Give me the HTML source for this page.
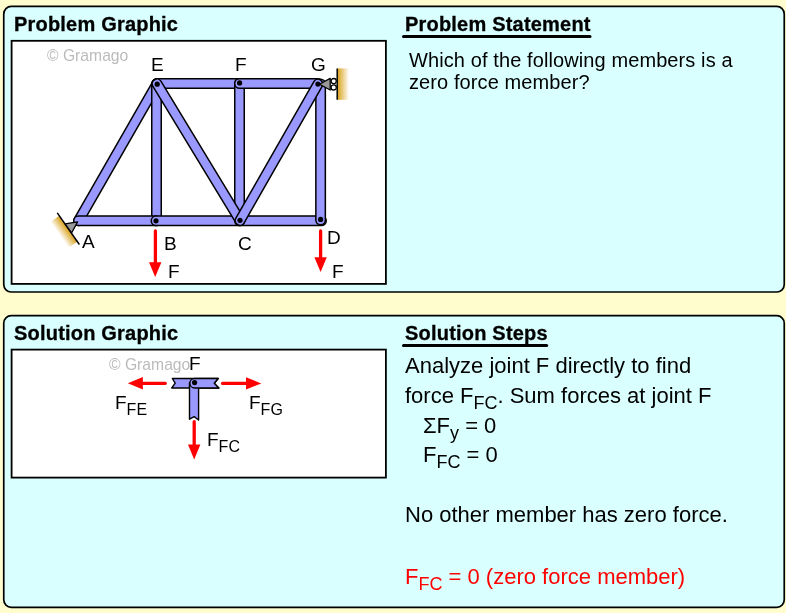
<!DOCTYPE html>
<html><head><meta charset="utf-8">
<style>
html,body{margin:0;padding:0;}
body{width:786px;height:613px;background:#FFFCCD;position:relative;overflow:hidden;font-family:"Liberation Sans",sans-serif;}
svg{position:absolute;left:0;top:0;}
.t,.st,.lab,.cp{will-change:transform;}
.t{position:absolute;white-space:nowrap;line-height:20px;font-size:20px;color:#000;}
.b{font-weight:bold;letter-spacing:0.2px;-webkit-text-stroke:0.3px #000;}
.lab{position:absolute;white-space:nowrap;line-height:19px;font-size:19px;color:#000;}
.cp{position:absolute;white-space:nowrap;line-height:16px;font-size:15.7px;color:#BBBBBB;}
sub{font-size:18px;vertical-align:-6px;line-height:0;}
.st{position:absolute;white-space:nowrap;line-height:22px;font-size:22px;color:#000;}
.s15{font-size:16px;vertical-align:-6px;line-height:0;}
</style></head><body>
<svg width="786" height="613" viewBox="0 0 786 613">
<defs>
<linearGradient id="gw" x1="0" y1="0" x2="1" y2="0">
<stop offset="0" stop-color="#D9A21C"/><stop offset="1" stop-color="#D9A21C" stop-opacity="0"/>
</linearGradient>
</defs>
<!-- panels -->
<rect x="3.75" y="6.4" width="780.5" height="285.6" rx="7.5" ry="7.5" fill="#D9FFFF" stroke="#000" stroke-width="1.7"/>
<rect x="3.75" y="315.7" width="780.5" height="291.65" rx="7.5" ry="7.5" fill="#D9FFFF" stroke="#000" stroke-width="1.7"/>
<!-- inner boxes -->
<rect x="11.6" y="40.8" width="374.3" height="243.1" fill="#FFFFFF" stroke="#000" stroke-width="1.8"/>
<rect x="11.6" y="349.6" width="374.3" height="128" fill="#FFFFFF" stroke="#000" stroke-width="1.8"/>
<!-- underlines -->
<line x1="403.5" y1="36.5" x2="590" y2="36.5" stroke="#000" stroke-width="3" stroke-linecap="round"/>
<line x1="403.5" y1="345.5" x2="546.7" y2="345.5" stroke="#000" stroke-width="3" stroke-linecap="round"/>

<!-- truss members -->
<g stroke-linecap="round" fill="none">
<g id="m">
<!-- AE -->
<line x1="78.5" y1="220.8" x2="157" y2="83.8" stroke="#000" stroke-width="11"/>
<line x1="78.5" y1="220.8" x2="157" y2="83.8" stroke="#9999FF" stroke-width="8"/>
<!-- EB -->
<line x1="156.5" y1="83.8" x2="156.5" y2="220.8" stroke="#000" stroke-width="11"/>
<line x1="156.5" y1="83.8" x2="156.5" y2="220.8" stroke="#9999FF" stroke-width="8"/>
<!-- AB -->
<line x1="78.5" y1="220.8" x2="156" y2="220.8" stroke="#000" stroke-width="11"/>
<line x1="78.5" y1="220.8" x2="156" y2="220.8" stroke="#9999FF" stroke-width="8"/>
<!-- BC -->
<line x1="156" y1="220.8" x2="240" y2="220.8" stroke="#000" stroke-width="11"/>
<line x1="156" y1="220.8" x2="240" y2="220.8" stroke="#9999FF" stroke-width="8"/>
<!-- CD -->
<line x1="240" y1="220.8" x2="321.5" y2="220.8" stroke="#000" stroke-width="11"/>
<line x1="240" y1="220.8" x2="321.5" y2="220.8" stroke="#9999FF" stroke-width="8"/>
<!-- EF -->
<line x1="157" y1="83.5" x2="239.5" y2="83.5" stroke="#000" stroke-width="11"/>
<line x1="157" y1="83.5" x2="239.5" y2="83.5" stroke="#9999FF" stroke-width="8"/>
<!-- FC -->
<line x1="239.5" y1="83.5" x2="239.5" y2="220.8" stroke="#000" stroke-width="11"/>
<line x1="239.5" y1="83.5" x2="239.5" y2="220.8" stroke="#9999FF" stroke-width="8"/>
<!-- FG -->
<line x1="239.5" y1="83.5" x2="318" y2="83.5" stroke="#000" stroke-width="11"/>
<line x1="239.5" y1="83.5" x2="318" y2="83.5" stroke="#9999FF" stroke-width="8"/>
<!-- EC -->
<line x1="157" y1="83.8" x2="240" y2="220.5" stroke="#000" stroke-width="11"/>
<line x1="157" y1="83.8" x2="240" y2="220.5" stroke="#9999FF" stroke-width="8"/>
<!-- GD -->
<line x1="320.6" y1="84" x2="320.6" y2="220" stroke="#000" stroke-width="11"/>
<line x1="320.6" y1="84" x2="320.6" y2="220" stroke="#9999FF" stroke-width="8"/>
<!-- CG -->
<line x1="240" y1="220.5" x2="318" y2="84" stroke="#000" stroke-width="11"/>
<line x1="240" y1="220.5" x2="318" y2="84" stroke="#9999FF" stroke-width="8"/>
</g>
</g>
<!-- pins -->
<g fill="#000">
<circle cx="156" cy="220.8" r="2.6"/>
<circle cx="240" cy="220.3" r="2.6"/>
<circle cx="320.6" cy="219.4" r="2.6"/>
<circle cx="157.2" cy="84.2" r="2.6"/>
<circle cx="239.6" cy="82.9" r="2.6"/>
<circle cx="317.9" cy="84.1" r="2.6"/>
</g>
<!-- support G (roller) -->
<g transform="translate(318,84.2)">
<rect x="19.6" y="-15.8" width="11.4" height="31.4" fill="url(#gw)"/>
<line x1="19.2" y1="-15.8" x2="19.2" y2="15.6" stroke="#000" stroke-width="1.5"/>
<circle cx="15.7" cy="-3.1" r="2.6" fill="#fff" stroke="#000" stroke-width="1.3"/>
<circle cx="15.7" cy="3.2" r="2.6" fill="#fff" stroke="#000" stroke-width="1.3"/>
<polygon points="1.5,0 12.2,-5.8 12.2,5.8" fill="#999" stroke="#000" stroke-width="1.3" stroke-linejoin="round"/>
</g>
<!-- support A (pin) -->
<g transform="translate(78,221.6) rotate(145)">
<rect x="12.4" y="-16" width="10.5" height="31.5" fill="url(#gw)"/>
<line x1="12" y1="-19.5" x2="12" y2="19" stroke="#000" stroke-width="1.5"/>
<polygon points="0.5,0 11.8,-5.6 11.8,5.6" fill="#999" stroke="#000" stroke-width="1.3" stroke-linejoin="round"/>
</g>
<!-- load arrows -->
<g fill="#FF0000">
<line x1="155.4" y1="231" x2="155.4" y2="263" stroke="#FF0000" stroke-width="3.3" stroke-linecap="round"/>
<polygon points="149,262.2 161.4,262.2 155.2,276.9"/>
<line x1="320.6" y1="231" x2="320.6" y2="258" stroke="#FF0000" stroke-width="3.3" stroke-linecap="round"/>
<polygon points="314.4,257.3 326.8,257.3 320.6,272"/>
</g>

<!-- solution graphic: joint F FBD -->
<path d="M172.3,378.5 L218.2,378.5 L214.2,383.2 L218.8,388 L171.7,388 L175.2,383.2 Z" fill="#9999FF" stroke="#000" stroke-width="1.4" stroke-linejoin="round"/>
<path d="M189.5,383 L189.5,419.2 L194.2,416.6 L198.6,420 L198.6,383 Z" fill="#9999FF" stroke="#000" stroke-width="1.4" stroke-linejoin="round"/>
<path d="M194.6,378.5 L218.2,378.5 L214.2,383.2 L218.8,388 L194.6,388 A4.75,4.75 0 0 1 194.6,378.5 Z" fill="#9999FF" stroke="#000" stroke-width="1.4" stroke-linejoin="round"/>
<circle cx="194.6" cy="382.6" r="2.6" fill="#000"/>
<g fill="#FF0000">
<line x1="143" y1="383.3" x2="165.3" y2="383.3" stroke="#FF0000" stroke-width="3.3" stroke-linecap="round"/>
<polygon points="127.8,383.3 142.9,377.1 142.9,389.5"/>
<line x1="222.6" y1="383.4" x2="247" y2="383.4" stroke="#FF0000" stroke-width="3.3" stroke-linecap="round"/>
<polygon points="261.3,383.4 246,377.2 246,389.6"/>
<line x1="194.2" y1="421.7" x2="194.2" y2="445" stroke="#FF0000" stroke-width="3.3" stroke-linecap="round"/>
<polygon points="188,444.4 200.4,444.4 194.2,459.5"/>
</g>
</svg>

<div class="t b" style="left:14px;top:14px;">Problem Graphic</div>
<div class="t b" style="left:405px;top:14px;">Problem Statement</div>
<div class="t b" style="left:14px;top:323px;">Solution Graphic</div>
<div class="t b" style="left:405px;top:323px;">Solution Steps</div>

<div class="t" style="left:409px;top:50px;letter-spacing:0.1px;">Which of the following members is a</div>
<div class="t" style="left:409px;top:72px;letter-spacing:0.1px;">zero force member?</div>

<div class="cp" style="left:47px;top:48px;">© Gramago</div>
<div class="lab" style="left:151px;top:55px;">E</div>
<div class="lab" style="left:235px;top:55px;">F</div>
<div class="lab" style="left:311px;top:55px;">G</div>
<div class="lab" style="left:82px;top:232px;">A</div>
<div class="lab" style="left:164px;top:234px;">B</div>
<div class="lab" style="left:238px;top:234px;">C</div>
<div class="lab" style="left:327px;top:228px;">D</div>
<div class="lab" style="left:168px;top:262px;">F</div>
<div class="lab" style="left:332px;top:262px;">F</div>

<div class="cp" style="left:109px;top:357px;">© Gramago</div>
<div class="lab" style="left:189px;top:354px;">F</div>
<div class="lab" style="left:115px;top:393px;">F<span class="s15">FE</span></div>
<div class="lab" style="left:249px;top:393px;">F<span class="s15">FG</span></div>
<div class="lab" style="left:207px;top:430px;">F<span class="s15">FC</span></div>

<div class="st" style="left:405px;top:355px;">Analyze joint F directly to find</div>
<div class="st" style="left:405px;top:385px;">force F<sub>FC</sub>. Sum forces at joint F</div>
<div class="st" style="left:423px;top:415px;">&Sigma;F<sub>y</sub> = 0</div>
<div class="st" style="left:423px;top:444px;">F<sub>FC</sub> = 0</div>
<div class="st" style="left:404.5px;top:504px;">No other member has zero force.</div>
<div class="st" style="left:404.5px;top:566px;color:#FF0000;">F<sub>FC</sub> = 0 (zero force member)</div>

</body></html>
